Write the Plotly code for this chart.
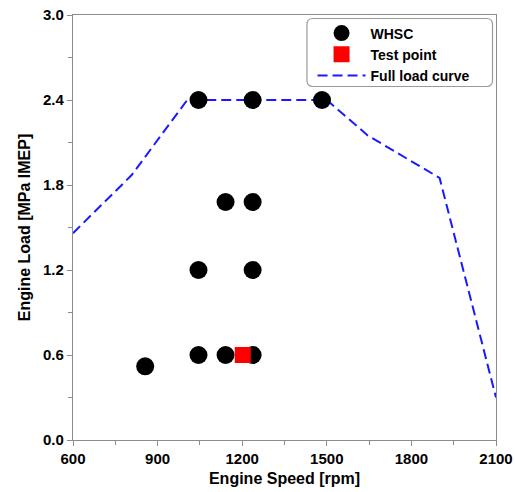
import plotly.graph_objects as go

# WHSC operating points
whsc_speed = [856, 1045, 1141, 1237, 1045, 1237, 1141, 1237, 1045, 1237, 1483]
whsc_load = [0.52, 0.60, 0.60, 0.60, 1.20, 1.20, 1.68, 1.68, 2.40, 2.40, 2.40]

# Test point
test_speed = [1202]
test_load = [0.60]

# Full load curve
flc_speed = [600, 808, 1005, 1500, 1645, 1900, 2100]
flc_load = [1.46, 1.87, 2.40, 2.40, 2.15, 1.85, 0.30]

x_ticks = [600, 900, 1200, 1500, 1800, 2100]
y_ticks = [0.0, 0.6, 1.2, 1.8, 2.4, 3.0]

FONT = "Liberation Sans, Arial, sans-serif"

fig = go.Figure()
fig.add_trace(go.Scatter(
    x=flc_speed, y=flc_load, mode="lines", name="Full load curve",
    line=dict(color="#1a1aff", width=2, dash="10px,5px"),
))
fig.add_trace(go.Scatter(
    x=whsc_speed, y=whsc_load, mode="markers", name="WHSC",
    marker=dict(color="black", size=18, symbol="circle"),
))
fig.add_trace(go.Scatter(
    x=test_speed, y=test_load, mode="markers", name="Test point",
    marker=dict(color="#ff0000", size=16, symbol="square"),
))

# rounded legend box
px0, py0, w, h = 72.5, 15.0, 424.0, 425.0
def px(x):
    return (x - px0) / w
def py(y):
    return (py0 + h - y) / h
L, R, T, B = px(307), px(493), py(18.5), py(86.5)
rx, ry = 6 / w, 6 / h
path = (f"M {L+rx},{T} L {R-rx},{T} Q {R},{T} {R},{T-ry} L {R},{B+ry} "
        f"Q {R},{B} {R-rx},{B} L {L+rx},{B} Q {L},{B} {L},{B+ry} "
        f"L {L},{T-ry} Q {L},{T} {L+rx},{T} Z")
fig.add_shape(type="path", path=path, xref="paper", yref="paper",
              line=dict(color="#9a9a9a", width=1.2), fillcolor="white", layer="above")

axis_common = dict(
    showline=True, linecolor="#8c8c8c", linewidth=1.2, mirror=True,
    ticks="outside", ticklen=5, tickcolor="#8c8c8c", tickwidth=1,
    showgrid=False, zeroline=False, automargin=False,
    tickfont=dict(family=FONT, size=15, color="black", weight="bold"),
)

fig.update_xaxes(
    range=[600, 2100], tickvals=x_ticks, ticktext=[str(v) for v in x_ticks],
    minor=dict(dtick=150, tick0=600, ticks="outside", ticklen=4, tickcolor="#8c8c8c"),
    title=dict(text="Engine Speed [rpm]", font=dict(family=FONT, size=16, color="black", weight="bold"), standoff=6),
    **axis_common,
)
fig.update_yaxes(
    range=[0, 3.0], tickvals=y_ticks, ticktext=[f"{v:.1f}" for v in y_ticks],
    minor=dict(dtick=0.3, tick0=0, ticks="outside", ticklen=4, tickcolor="#8c8c8c"),
    title=dict(text="Engine Load [MPa IMEP]", font=dict(family=FONT, size=16, color="black", weight="bold"), standoff=8),
    **axis_common,
)

fig.update_layout(
    width=515, height=492,
    margin=dict(l=72.5, r=18.5, t=15, b=52),
    plot_bgcolor="white", paper_bgcolor="white",
    showlegend=True,
    legend=dict(
        x=px(476), y=py(17.5), xanchor="right", yanchor="top",
        bgcolor="rgba(0,0,0,0)", borderwidth=0,
        font=dict(family=FONT, size=14, color="black", weight="bold"),
        traceorder="normal", itemwidth=48,
        tracegroupgap=0,
    ),
)
# legend order: WHSC, Test point, Full load curve
fig.data[0].legendrank = 3
fig.data[1].legendrank = 1
fig.data[2].legendrank = 2

fig.write_html("out.html")
